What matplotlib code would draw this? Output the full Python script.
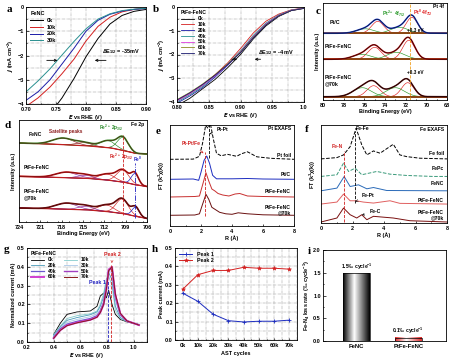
import numpy as np
import matplotlib
matplotlib.use('Agg')
import matplotlib.pyplot as plt
from matplotlib.colors import LinearSegmentedColormap
from matplotlib.patches import Rectangle
from matplotlib.ticker import MultipleLocator, FixedLocator

plt.rcParams['font.family'] = ['Liberation Sans', 'DejaVu Sans']
plt.rcParams['font.weight'] = 'bold'
plt.rcParams['font.size'] = 4
plt.rcParams['axes.linewidth'] = 0.6
plt.rcParams['axes.labelweight'] = 'bold'
plt.rcParams['xtick.direction'] = 'in'
plt.rcParams['ytick.direction'] = 'in'
plt.rcParams['xtick.major.size'] = 1.8
plt.rcParams['ytick.major.size'] = 1.8
plt.rcParams['xtick.minor.size'] = 1.0
plt.rcParams['ytick.minor.size'] = 1.0
plt.rcParams['xtick.major.width'] = 0.5
plt.rcParams['ytick.major.width'] = 0.5
plt.rcParams['xtick.major.pad'] = 2
plt.rcParams['ytick.major.pad'] = 1.5
plt.rcParams['mathtext.default'] = 'regular'
plt.rcParams['legend.frameon'] = False

# ---------------- panel a data (FeNC LSV) ----------------
a_labels = ['0k', '10k', '20k', '30k']
a_colors = ['black', '#d42020', '#1c1ca8', '#2a9090']
a_x = [
    [0.74, 0.76, 0.78, 0.80, 0.82, 0.84, 0.86, 0.88, 0.90],
    [0.70, 0.72, 0.74, 0.76, 0.78, 0.80, 0.82, 0.84, 0.86, 0.88, 0.90],
    [0.70, 0.72, 0.74, 0.76, 0.78, 0.80, 0.82, 0.84, 0.86, 0.88, 0.90],
    [0.70, 0.72, 0.74, 0.76, 0.78, 0.80, 0.82, 0.84, 0.86, 0.88, 0.90],
]
a_j = [
    [-4.4, -3.75, -2.95, -2.05, -1.3, -0.7, -0.35, -0.18, -0.1],
    [-4.1, -3.75, -3.3, -2.75, -2.15, -1.4, -0.8, -0.42, -0.2, -0.1, -0.05],
    [-3.85, -3.5, -3.0, -2.35, -1.7, -1.0, -0.55, -0.3, -0.17, -0.1, -0.06],
    [-3.5, -3.05, -2.55, -1.98, -1.42, -0.9, -0.5, -0.28, -0.15, -0.09, -0.05],
]

# ---------------- panel b data (PtFe-FeNC LSV) ----------------
b_labels = ['0k', '10k', '20k', '40k', '50k', '60k', '70k']
b_colors = ['black', '#d42020', '#1c1ca8', '#2a9090', '#e040e0', '#8a8a20', '#1a1a70']
b_x = [0.80, 0.82, 0.84, 0.86, 0.88, 0.90, 0.92, 0.94, 0.96, 0.98, 1.00]
b_j = [
    [-4.15, -3.85, -3.45, -3.05, -2.55, -2.0, -1.35, -0.8, -0.4, -0.15, -0.05],
    [-3.95, -3.65, -3.3, -2.85, -2.35, -1.75, -1.1, -0.6, -0.3, -0.12, -0.04],
    [-4.05, -3.75, -3.4, -2.95, -2.45, -1.9, -1.25, -0.72, -0.36, -0.14, -0.05],
    [-4.0, -3.7, -3.35, -2.9, -2.4, -1.85, -1.2, -0.68, -0.34, -0.13, -0.05],
    [-3.95, -3.65, -3.3, -2.9, -2.42, -1.88, -1.25, -0.72, -0.36, -0.14, -0.05],
    [-3.9, -3.6, -3.25, -2.85, -2.4, -1.9, -1.28, -0.75, -0.38, -0.15, -0.06],
    [-3.92, -3.62, -3.27, -2.87, -2.42, -1.92, -1.3, -0.76, -0.38, -0.15, -0.06],
]

# ---------------- panel c data (Pt 4f XPS fit components) ----------------
c_samples = ['Pt/C', 'PtFe-FeNC', 'PtFe-FeNC\n@70k']
c_offsets = [6.67, 4.07, 0.33]
# (center eV, height, FWHM): Pt0 4f7/2, Pt0 4f5/2 | Pt2+ 4f7/2, Pt2+ 4f5/2
c_pt0 = [[(71.4, 1.6, 1.3), (74.7, 1.2, 1.4)],
         [(71.7, 1.9, 1.4), (75.0, 1.2, 1.5)],
         [(71.8, 1.4, 1.4), (75.1, 1.1, 1.5)]]
c_pt2 = [[(72.6, 0.6, 2.0), (75.9, 0.45, 2.0)],
         [(72.9, 0.7, 2.1), (76.2, 0.5, 2.1)],
         [(73.0, 0.9, 2.1), (76.2, 0.9, 2.1)]]
c_data_colors = ['#1f3fcf', '#b01010', '#5a0a0a']

# ---------------- panel d data (Fe 2p XPS) ----------------
d_samples = ['FeNC', 'PtFe-FeNC', 'PtFe-FeNC\n@70k']
d_ticks = [724, 721, 718, 715, 712, 709, 706]
d_bg_e = [724, 718, 714, 711, 709, 707.5, 706]
d_bg = [[7.9, 7.75, 7.6, 7.4, 7.1, 6.85, 6.8],
        [4.57, 4.45, 4.35, 4.15, 3.95, 3.7, 3.55],
        [1.4, 1.3, 1.2, 1.0, 0.8, 0.55, 0.35]]
# Fe2+ main, Fe2+ second | satellite 1, satellite 2 | Fe0
d_fe2 = [[(709.4, 1.3, 1.8), (711.5, 0.7, 2.5)],
         [(709.4, 1.2, 2.0), (711.6, 0.6, 2.5)],
         [(709.5, 1.45, 2.0), (711.7, 0.65, 2.5)]]
d_sat = [[(717.8, 0.65, 3.5), (714.8, 0.3, 2.5)],
         [(717.3, 0.55, 3.5), (714.6, 0.3, 2.5)],
         [(717.3, 0.6, 3.5), (714.6, 0.35, 2.5)]]
d_fe0 = [None, (707.7, 1.1, 1.2), (707.6, 0.9, 1.2)]
d_data_colors = ['#3a8a2a', '#c01818', '#6a0c0c']

# ---------------- panel e data (Pt EXAFS) ----------------
e_labels = ['Pt foil', 'Pt/C', 'PtFe-FeNC', 'PtFe-FeNC\n@70k']
e_offsets = [6.67, 4.67, 2.9, 1.07]
e_colors = ['black', '#1c2cc0', '#c83030', '#6a1010']
e_styles = ['--', '-', '-', '-']
e_r = [
    [0, 1.5, 1.9, 2.1, 2.3, 2.45, 2.6, 2.8, 3.0, 3.3, 3.7, 4.3, 4.6, 5.0, 5.6, 6.5, 8.0],
    [0, 1.5, 1.85, 2.0, 2.2, 2.37, 2.55, 2.75, 3.0, 4.0, 5.0, 6.0, 8.0],
    [0, 1.6, 1.9, 2.1, 2.32, 2.5, 2.7, 2.9, 3.1, 3.4, 3.8, 4.2, 4.5, 5.0, 6.0, 8.0],
    [0, 1.6, 1.9, 2.1, 2.32, 2.5, 2.7, 2.9, 3.2, 3.6, 4.0, 4.4, 5.0, 6.0, 8.0],
]
e_v = [
    [0, 0.02, 0.3, 1.6, 3.4, 3.1, 3.6, 2.0, 0.6, 0.35, 0.5, 0.3, 0.55, 0.75, 0.25, 0.1, 0],
    [0, 0.03, -0.1, 0.7, 1.9, 2.33, 1.6, 0.4, 0.05, 0.05, 0.08, 0.03, 0],
    [0, 0.05, 0.1, 1.2, 2.43, 1.6, 0.8, 0.6, 0.35, 0.2, 0.1, 0.3, 0.35, 0.1, 0.05, 0],
    [0, 0.03, 0.15, 1.1, 2.1, 1.6, 0.8, 0.6, 0.3, 0.15, 0.1, 0.25, 0.15, 0.05, 0],
]

# ---------------- panel f data (Fe EXAFS) ----------------
f_labels = ['Fe foil', 'FePc', 'FeNC', 'PtFe-FeNC', 'PtFe-FeNC\n@70k']
f_offsets = [6.43, 4.67, 3.23, 1.9, 0.1]
f_colors = ['black', '#3a9a7a', '#2a6ab8', '#e06060', '#7a1010']
f_styles = ['--', '--', '-', '-', '-']
f_r = [
    [0, 1.01, 1.43, 1.85, 2.23, 2.59, 2.91, 3.33, 3.75, 4.59, 5.01, 5.43, 6.27, 8.0],
    [0, 1.01, 1.43, 1.75, 2.17, 2.59, 3.54, 4.38, 5.43, 7.1, 8.0],
    [0, 1.01, 1.47, 1.85, 2.38, 2.91, 3.33, 4.17, 8.0],
    [0, 1.01, 1.43, 1.85, 2.23, 2.69, 3.33, 4.38, 5.01, 8.0],
    [0, 1.01, 1.43, 1.85, 2.27, 2.59, 2.91, 3.33, 4.59, 5.64, 8.0],
]
f_v = [
    [0, 0.13, 0.4, 1.23, 3.07, 1.4, 0.4, 0.8, 0.57, 1.47, 0.4, 0.23, 0.07, 0],
    [0, 0.17, 1.33, 0.5, 0.83, 0.17, 0.5, 0.23, 0.1, 0.0, 0],
    [0, 0.27, 1.43, 0.43, 0.6, 0.2, 0.33, 0.03, 0],
    [0, 0.2, 1.0, 0.33, 0.33, 0.2, 0.1, 0.33, 0.07, 0],
    [0, 0.4, 1.4, 0.73, 0.4, 0.73, 0.23, 0.57, 0.4, 0.13, 0],
]

# ---------------- panel g data (CV, normalized current) ----------------
g_labels = ['0k', '10k', '20k', '30k', '40k', '50k', '60k', '70k']
g_colors = ['black', '#86cccc', '#4a9ab8', '#a8c8e8', '#6a5acd', '#a040c0', '#d040d0', '#8b1a1a']
g_e = [0.40, 0.45, 0.50, 0.575, 0.675, 0.725, 0.75, 0.775, 0.795, 0.8125, 0.8375, 0.8625, 0.90, 0.95, 1.04]
g_i = [
    [0.04, 0.10, 0.147, 0.16, 0.165, 0.19, 0.245, 0.26, 0.235, 0.275, 0.20, 0.147, 0.12, 0.107, 0.093],
    [0.04, 0.085, 0.125, 0.14, 0.15, 0.165, 0.20, 0.26, 0.335, 0.35, 0.30, 0.17, 0.125, 0.108, 0.093],
    [0.035, 0.08, 0.115, 0.13, 0.145, 0.16, 0.19, 0.24, 0.32, 0.37, 0.33, 0.19, 0.13, 0.11, 0.092],
    [0.03, 0.075, 0.105, 0.12, 0.135, 0.15, 0.175, 0.22, 0.30, 0.375, 0.37, 0.22, 0.14, 0.11, 0.092],
    [0.025, 0.07, 0.095, 0.11, 0.125, 0.14, 0.165, 0.21, 0.29, 0.38, 0.39, 0.24, 0.145, 0.112, 0.09],
    [0.022, 0.065, 0.09, 0.105, 0.12, 0.135, 0.16, 0.205, 0.285, 0.385, 0.395, 0.25, 0.15, 0.112, 0.09],
    [0.02, 0.063, 0.088, 0.103, 0.118, 0.133, 0.158, 0.20, 0.28, 0.385, 0.40, 0.25, 0.15, 0.112, 0.09],
    [0.02, 0.062, 0.087, 0.102, 0.117, 0.132, 0.157, 0.20, 0.28, 0.38, 0.40, 0.255, 0.152, 0.112, 0.09],
]

# ---------------- panel h data ----------------
h_cycles = ['0k', '10k', '20k', '30k', '40k', '50k', '60k', '70k']
h_peak1 = [0.255, 0.21, 0.14, 0.105, 0.098, 0.102, 0.102, 0.108]
h_peak2 = [0.275, 0.355, 0.378, 0.378, 0.395, 0.39, 0.39, 0.385]

# ---------------- panel i data ----------------
i_cats = ['FeNC', 'PtFe-FeNC']
i_vals = [1.49, 0.07]
i_texts = ['1.5‰ cycle$^{-1}$', '0.1‰ cycle$^{-1}$']


def gauss(e, c, h, w):
    return h * np.exp(-4 * np.log(2) * ((e - c) / w) ** 2)


W, H = 454, 360
fig = plt.figure(figsize=(W / 100, H / 100), dpi=100)


def add_ax(x0, y0, x1, y1):
    return fig.add_axes([x0 / W, 1 - y1 / H, (x1 - x0) / W, (y1 - y0) / H])


def grid_style(ax):
    ax.grid(True, which='both', color='#9a9a9a', linestyle='-.', linewidth=0.35)
    ax.set_axisbelow(True)


def letter(x, y, s):
    fig.text(x / W, 1 - y / H, s, fontsize=8, fontweight='bold', ha='center', va='center',
             family=['Liberation Serif', 'DejaVu Serif'])


# ======== a ========
ax = add_ax(26, 7, 146, 104)
for xs, js, lab, col in zip(a_x, a_j, a_labels, a_colors):
    ax.plot(xs, js, color=col, lw=0.7, label=lab)
ax.set_xlim(0.70, 0.90)
ax.set_ylim(-4, 0)
ax.xaxis.set_major_locator(MultipleLocator(0.05))
ax.xaxis.set_minor_locator(MultipleLocator(0.025))
ax.yaxis.set_major_locator(MultipleLocator(1))
ax.yaxis.set_minor_locator(MultipleLocator(0.5))
ax.xaxis.set_major_formatter(plt.FuncFormatter(lambda v, p: f'{v:.2f}'))
grid_style(ax)
ax.set_xlabel('$\\it{E}$ vs RHE (V)', labelpad=1)
ax.set_ylabel('$\\it{j}$ (mA cm$^{-2}$)', labelpad=1)
ax.legend(title='FeNC', title_fontsize=4, loc='upper left', fontsize=4, handlelength=2.2,
          labelspacing=0.3, borderaxespad=0.4, alignment='left')
ax.text(0.826, -1.9, 'ΔE$_{1/2}$ = -35mV', fontsize=4)
ax.annotate('', xy=(0.757, -2.2), xytext=(0.73, -2.2),
            arrowprops=dict(arrowstyle='->', lw=0.6, color='black'))
ax.annotate('', xy=(0.81, -2.2), xytext=(0.838, -2.2),
            arrowprops=dict(arrowstyle='->', lw=0.6, color='black'))
letter(9, 10, 'a')

# ======== b ========
ax = add_ax(177, 7, 304, 102)
for js, lab, col in zip(b_j, b_labels, b_colors):
    ax.plot(b_x, js, color=col, lw=0.6, label=lab)
ax.set_xlim(0.80, 1.00)
ax.set_ylim(-4, 0)
ax.xaxis.set_major_locator(MultipleLocator(0.05))
ax.xaxis.set_minor_locator(MultipleLocator(0.025))
ax.yaxis.set_major_locator(MultipleLocator(1))
ax.yaxis.set_minor_locator(MultipleLocator(0.5))
ax.xaxis.set_major_formatter(plt.FuncFormatter(lambda v, p: f'{v:.2f}' if v < 0.999 else '1.0'))
grid_style(ax)
ax.set_xlabel('$\\it{E}$ vs RHE (V)', labelpad=1)
ax.set_ylabel('$\\it{j}$ (mA cm$^{-2}$)', labelpad=1)
ax.legend(title='PtFe-FeNC', title_fontsize=3.6, loc='upper left', fontsize=3.6, handlelength=2.6,
          labelspacing=0.15, borderaxespad=0.3, alignment='left')
ax.text(0.928, -2.0, 'ΔE$_{1/2}$ = -4 mV', fontsize=4)
ax.annotate('', xy=(0.899, -2.2), xytext=(0.882, -2.2),
            arrowprops=dict(arrowstyle='->', lw=0.6, color='black'))
ax.annotate('', xy=(0.918, -2.2), xytext=(0.936, -2.2),
            arrowprops=dict(arrowstyle='->', lw=0.6, color='black'))
letter(156, 9, 'b')

# ======== c ========
ax = add_ax(323, 3, 447, 100)
ec = np.linspace(68, 80, 400)
for k in range(3):
    off = c_offsets[k]
    bgc = np.full_like(ec, off)
    total = np.zeros_like(ec)
    for (cc, hh, ww) in c_pt0[k]:
        g = gauss(ec, cc, hh, ww)
        total += g
        ax.plot(ec, off + g, color='#e02020', lw=0.45)
    for (cc, hh, ww) in c_pt2[k]:
        g = gauss(ec, cc, hh, ww)
        total += g
        ax.plot(ec, off + g, color='#2a9a2a', lw=0.45)
    ax.plot(ec, bgc, color='#8b4513', lw=1.4)
    ax.plot(ec, off + total, color=c_data_colors[k], lw=1.1)
    ax.plot(ec, off + total, color='black', lw=0.35)
ax.axvline(71.6, color='#f0a020', ls='--', lw=0.6)
ax.set_xlim(80, 68)
ax.set_ylim(0, 9.7)
ax.xaxis.set_major_locator(MultipleLocator(2))
ax.xaxis.set_minor_locator(MultipleLocator(1))
ax.set_yticks([])
ax.set_xlabel('Binding Energy (eV)', labelpad=1)
ax.set_ylabel('Intensity (a.u.)', labelpad=2)
ax.text(79.4, 7.6, 'Pt/C', fontsize=3.8)
ax.text(79.8, 5.2, 'PtFe-FeNC', fontsize=3.8)
ax.text(79.8, 1.5, 'PtFe-FeNC\n@70k', fontsize=3.8, linespacing=1.2)
ax.text(74.3, 8.45, 'Pt$^{2+}$ 4f$_{7/2}$', fontsize=3.6, color='#2a9a2a')
ax.text(71.3, 8.5, 'Pt$^{0}$ 4f$_{7/2}$', fontsize=3.6, color='#e02020')
ax.text(68.3, 9.55, 'Pt 4f', fontsize=3.6, ha='right', va='top')
ax.text(71.9, 6.75, '+0.3 eV', fontsize=3.4)
ax.text(71.9, 2.65, '+0.3 eV', fontsize=3.4)
letter(318, 11, 'c')

# ======== d ========
ax = add_ax(19, 120, 147, 222)
ed = np.linspace(706, 724, 400)
for k in range(3):
    bgd = np.interp(ed, d_bg_e[::-1], d_bg[k][::-1])
    total = np.zeros_like(ed)
    for (cc, hh, ww) in d_fe2[k]:
        g = gauss(ed, cc, hh, ww)
        total += g
        ax.plot(ed, bgd + g, color='#d02020' if k else '#2a8a2a', lw=0.45)
    for (cc, hh, ww) in d_sat[k]:
        g = gauss(ed, cc, hh, ww)
        total += g
        ax.plot(ed, bgd + g, color='#8a1a1a' if k == 0 else '#8a2aa0', lw=0.45)
    if d_fe0[k] is not None:
        cc, hh, ww = d_fe0[k]
        g = gauss(ed, cc, hh, ww)
        total += g
        ax.plot(ed, bgd + g, color='#2020c0', lw=0.5)
    ax.plot(ed, bgd, color='#c02020', lw=0.9)
    ax.plot(ed, bgd + total, color=d_data_colors[k], lw=1.2)
    ax.plot(ed, bgd + total, color='#5a0a0a', lw=0.35)
ax.plot([709.4, 709.4], [0.7, 8.7], color='#d02020', ls='--', lw=0.6)
ax.plot([707.7, 707.7], [0.4, 5.9], color='#2020c0', ls='-.', lw=0.6)
ax.set_xlim(724, 706)
ax.set_ylim(0, 10.2)
ax.xaxis.set_major_locator(FixedLocator(d_ticks))
ax.xaxis.set_minor_locator(MultipleLocator(1.5))
ax.set_yticks([])
ax.set_xlabel('Binding Energy (eV)', labelpad=1)
ax.set_ylabel('Intensity (a.u.)', labelpad=2)
ax.text(722.6, 8.6, 'FeNC', fontsize=3.6)
ax.text(719.8, 8.95, 'Satellite peaks', fontsize=3.4, color='#8a1a1a')
ax.text(712.8, 9.2, 'Fe$^{2+}$ 2p$_{3/2}$', fontsize=3.4, color='#2a8a2a')
ax.text(706.4, 10.0, 'Fe 2p', fontsize=3.6, ha='right', va='top')
ax.text(711.4, 6.3, 'Fe$^{2+}$ 2p$_{3/2}$', fontsize=3.4, color='#d02020')
ax.text(708.0, 6.05, 'Fe$^{0}$', fontsize=3.4, color='#2020c0')
ax.text(723.4, 5.3, 'PtFe-FeNC', fontsize=3.6)
ax.text(723.4, 2.3, 'PtFe-FeNC\n@70k', fontsize=3.6, linespacing=1.2)
letter(8, 126, 'd')

# ======== e ========
ax = add_ax(170, 125, 294, 226)
for rs, vs, off, col, ls in zip(e_r, e_v, e_offsets, e_colors, e_styles):
    ax.plot(rs, np.array(vs) + off, color=col, ls=ls, lw=0.7)
ax.plot([2.26, 2.26], [1.0, 7.4], color='#d02020', ls='--', lw=0.6)
ax.plot([2.52, 2.52], [6.8, 10.1], color='black', ls='--', lw=0.6)
ax.set_xlim(0, 8)
ax.set_ylim(0, 10.1)
ax.xaxis.set_major_locator(MultipleLocator(2))
ax.xaxis.set_minor_locator(MultipleLocator(1))
ax.set_yticks([])
ax.set_xlabel('R (Å)', labelpad=1)
ax.set_ylabel('FT (k$^3$χ(k))', labelpad=2)
ax.annotate('Pt-Pt', xy=(2.55, 9.2), xytext=(3.0, 9.5), fontsize=3.6,
            arrowprops=dict(arrowstyle='->', lw=0.4))
ax.annotate('Pt-Pt/Fe', xy=(2.3, 7.1), xytext=(0.75, 8.1), fontsize=3.6, color='#d02020',
            arrowprops=dict(arrowstyle='->', lw=0.4, color='#d02020'))
for lab, yy in zip(['Pt EXAFS'] + e_labels, [9.7, 7.05, 5.2, 3.45, 1.6]):
    ax.text(7.8, yy, lab, fontsize=3.6, ha='right', va='center', linespacing=1.2)
letter(158, 131, 'e')

# ======== f ========
ax = add_ax(321, 125, 447, 223)
for rs, vs, off, col, ls in zip(f_r, f_v, f_offsets, f_colors, f_styles):
    ax.plot(rs, np.array(vs) + off, color=col, ls=ls, lw=0.7)
ax.plot([2.13, 2.13], [2.0, 9.2], color='black', ls='--', lw=0.6)
ax.plot([1.43, 1.43], [0.1, 7.2], color='#d02020', ls='--', lw=0.6)
ax.set_xlim(0, 8)
ax.set_ylim(0, 9.83)
ax.xaxis.set_major_locator(MultipleLocator(2))
ax.xaxis.set_minor_locator(MultipleLocator(1))
ax.set_yticks([])
ax.set_xlabel('R (Å)', labelpad=1)
ax.set_ylabel('FT (k$^3$χ(k))', labelpad=2)
ax.text(2.2, 9.3, 'Fe-Fe', fontsize=3.6)
ax.text(0.7, 7.5, 'Fe-N', fontsize=3.6, color='#d02020')
ax.annotate('Fe-Pt', xy=(2.2, 2.15), xytext=(2.6, 2.6), fontsize=3.6,
            arrowprops=dict(arrowstyle='->', lw=0.4))
ax.annotate('Fe-C', xy=(2.6, 0.8), xytext=(3.1, 1.05), fontsize=3.6,
            arrowprops=dict(arrowstyle='->', lw=0.4))
for lab, yy in zip(['Fe EXAFS'] + f_labels, [9.35, 7.0, 5.5, 4.0, 2.3, 0.8]):
    ax.text(7.8, yy, lab, fontsize=3.6, ha='right', va='center', linespacing=1.2)
letter(307, 129, 'f')

# ======== g ========
ax = add_ax(27, 248, 147, 342)
lws = [0.6, 0.6, 0.6, 0.6, 0.9, 1.0, 1.4, 0.7]
handles = []
for ys, lab, col, lw in zip(g_i, g_labels, g_colors, lws):
    h, = ax.plot(g_e, ys, color=col, lw=lw, label=lab)
    handles.append(h)
ax.plot([0.805, 0.805], [0.0, 0.325], color='#2020c0', ls='--', lw=0.6)
ax.plot([0.833, 0.833], [0.0, 0.41], color='#d02020', ls='--', lw=0.6)
ax.text(0.79, 0.31, 'Peak 1', fontsize=3.8, color='#2020c0', ha='right')
ax.annotate('Peak 2', xy=(0.835, 0.405), xytext=(0.84, 0.46), fontsize=3.8, color='#d02020',
            ha='center', arrowprops=dict(arrowstyle='->', lw=0.4, color='#d02020'))
ax.set_xlim(0.2, 1.1)
ax.set_ylim(0.0, 0.5)
ax.xaxis.set_major_locator(MultipleLocator(0.2))
ax.xaxis.set_minor_locator(MultipleLocator(0.1))
ax.yaxis.set_major_locator(MultipleLocator(0.1))
ax.yaxis.set_minor_locator(MultipleLocator(0.05))
ax.xaxis.set_major_formatter(plt.FuncFormatter(lambda v, p: f'{v:.1f}'))
ax.yaxis.set_major_formatter(plt.FuncFormatter(lambda v, p: f'{v:.1f}'))
grid_style(ax)
ax.set_xlabel('$\\it{E}$ vs RHE (V)', labelpad=1)
ax.set_ylabel('Normalized current (mA)', labelpad=1)
order = [0, 2, 4, 6, 1, 3, 5, 7]
ax.legend([handles[o] for o in order], [g_labels[o] for o in order], title='PtFe-FeNC',
          title_fontsize=3.6, ncol=2, loc='upper left', fontsize=3.6, handlelength=2.6,
          labelspacing=0.15, columnspacing=1.5, borderaxespad=0.3, alignment='left')
letter(7, 249, 'g')

# ======== h ========
ax = add_ax(175, 248, 297, 340)
xs = np.arange(len(h_cycles))
ax.plot(xs, h_peak1, color='#1c2cc0', lw=0.7, marker='+', ms=3, mew=0.6, label='Peak 1')
ax.plot(xs, h_peak2, color='#d42020', lw=0.7, marker='*', ms=3, mew=0.4, label='Peak 2')
ax.set_xticks(xs)
ax.set_xticklabels(h_cycles)
ax.set_xlim(-0.5, 7.5)
ax.set_ylim(0.0, 0.5)
ax.yaxis.set_major_locator(MultipleLocator(0.1))
ax.yaxis.set_minor_locator(MultipleLocator(0.05))
ax.xaxis.set_minor_locator(MultipleLocator(0.5))
ax.yaxis.set_major_formatter(plt.FuncFormatter(lambda v, p: f'{v:.1f}'))
grid_style(ax)
ax.set_xlabel('AST cycles', labelpad=2)
ax.set_ylabel('Peak current (mA)', labelpad=1)
ax.legend(loc='upper left', fontsize=3.8, handlelength=2.6, labelspacing=0.2, borderaxespad=0.3)
letter(155, 249, 'h')

# ======== i ========
ax = add_ax(323, 250, 446, 341)
bw = 0.52
cmaps = [LinearSegmentedColormap.from_list('k', [(0, '#000000'), (0.42, '#ffffff'), (1, '#000000')]),
         LinearSegmentedColormap.from_list('r', [(0, '#e02828'), (0.42, '#ffffff'), (1, '#e02828')])]
grad = np.linspace(0, 1, 256)[None, :]
for k, (v, cm) in enumerate(zip(i_vals, cmaps)):
    ax.imshow(grad, extent=[k - bw / 2, k + bw / 2, 0, v], aspect='auto', cmap=cm, zorder=2)
    ax.add_patch(Rectangle((k - bw / 2, 0), bw, v, fill=False, edgecolor='black', lw=0.5, zorder=3))
    ax.text(k, v + 0.03, i_texts[k], fontsize=3.6, ha='center', va='bottom')
ax.set_xlim(-0.65, 1.73)
ax.set_ylim(0, 2.0)
ax.set_xticks([0, 1])
ax.set_xticklabels(i_cats, fontsize=4.2)
ax.tick_params(axis='x', length=0)
ax.yaxis.set_major_locator(MultipleLocator(0.5))
ax.yaxis.set_minor_locator(MultipleLocator(0.25))
ax.yaxis.set_major_formatter(plt.FuncFormatter(lambda v, p: f'{v:.1f}'))
ax.set_ylabel('Fe-N$_4$ loss rate (‰ cycle$^{-1}$)', labelpad=1)
letter(309, 252, 'i')

fig.savefig('out.png', dpi=100)
